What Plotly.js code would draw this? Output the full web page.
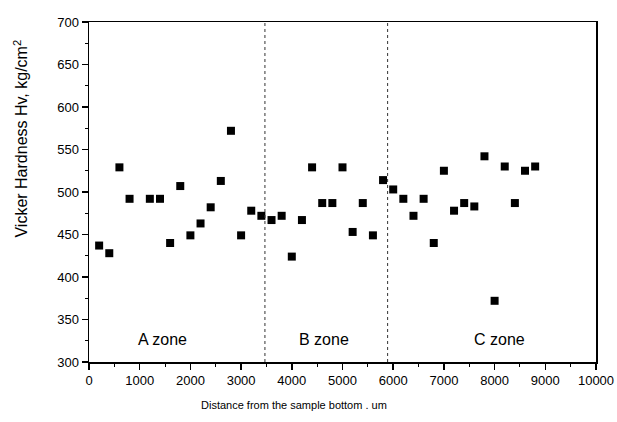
<!DOCTYPE html>
<html>
<head>
<meta charset="utf-8">
<script src="https://cdn.plot.ly/plotly-3.0.1.min.js"></script>
<style>html,body{margin:0;padding:0;background:#fff;}#chart{width:617px;height:422px;}</style>
</head>
<body>
<div id="chart"></div>
<script>
// Distance from the sample bottom (um)
const distance = [200, 400, 600, 800, 1200, 1400, 1600, 1800, 2000, 2200, 2400, 2600, 2800, 3000, 3200, 3400,
  3600, 3800, 4000, 4200, 4400, 4600, 4800, 5000, 5200, 5400, 5600, 5800,
  6000, 6200, 6400, 6600, 6800, 7000, 7200, 7400, 7600, 7800, 8000, 8200, 8400, 8600, 8800];
// Vicker hardness Hv (kg/cm2)
const hardness = [437, 428, 529, 492, 492, 492, 440, 507, 449, 463, 482, 513, 572, 449, 478, 472,
  467, 472, 424, 467, 529, 487, 487, 529, 453, 487, 449, 514,
  503, 492, 472, 492, 440, 525, 478, 487, 483, 542, 372, 530, 487, 525, 530];
const xTickVals = [0, 1000, 2000, 3000, 4000, 5000, 6000, 7000, 8000, 9000, 10000];
const xTickText = ["0", "1000", "2000", "3000", "4000", "5000", "6000", "7000", "8000", "9000", "10000"];
const yTickVals = [300, 350, 400, 450, 500, 550, 600, 650, 700];
const zoneBoundaries = [3470, 5890];
const zoneLabels = ["A zone", "B zone", "C zone"];
const zoneLabelX = [1450, 4630, 8100];
const zoneLabelY = 327;

const FONT = "Liberation Sans, Arial, sans-serif";

const trace = {
  x: distance, y: hardness, type: "scatter", mode: "markers",
  marker: {symbol: "square", size: 8, color: "#000"},
  hoverinfo: "x+y"
};

const shapes = zoneBoundaries.map(b => ({
  type: "line", xref: "x", yref: "y", x0: b, x1: b, y0: 300, y1: 700,
  line: {color: "#333", width: 1, dash: "dot"}
}));

const annotations = zoneLabels.map((t, i) => ({
  text: t, x: zoneLabelX[i], y: zoneLabelY, xref: "x", yref: "y",
  showarrow: false, font: {family: FONT, size: 16, color: "#000"}
}));
annotations.push({
  text: "Distance from the sample bottom . um", xref: "paper", yref: "paper",
  x: (294 - 89.3) / (596 - 89.3), y: -0.125, yanchor: "middle", xanchor: "center",
  showarrow: false, font: {family: FONT, size: 11, color: "#000"}
});
annotations.push({
  text: "Vicker Hardness Hv, kg/cm<sup>2</sup>", xref: "paper", yref: "paper",
  x: -0.135, y: (362 - 139) / 340, textangle: -90, xanchor: "center", yanchor: "middle",
  showarrow: false, font: {family: FONT, size: 16, color: "#000"}
});

const layout = {
  width: 617, height: 422,
  margin: {l: 89, r: 21, t: 22, b: 60},
  paper_bgcolor: "#fff", plot_bgcolor: "#fff",
  showlegend: false,
  font: {family: FONT, color: "#000"},
  xaxis: {
    range: [0, 10000], tickmode: "array", tickvals: xTickVals, ticktext: xTickText,
    ticks: "outside", ticklen: 6, tickwidth: 1.5, tickcolor: "#000",
    minor: {dtick: 500, tick0: 0, ticks: "outside", ticklen: 3, tickwidth: 1, tickcolor: "#000"},
    showline: true, linewidth: 1.5, linecolor: "#000", mirror: true,
    showgrid: false, zeroline: false,
    tickfont: {family: FONT, size: 13, color: "#000"}
  },
  yaxis: {
    range: [300, 700], tickmode: "array", tickvals: yTickVals,
    ticks: "outside", ticklen: 6, tickwidth: 1.5, tickcolor: "#000",
    minor: {dtick: 25, tick0: 300, ticks: "outside", ticklen: 3, tickwidth: 1, tickcolor: "#000"},
    showline: true, linewidth: 1.5, linecolor: "#000", mirror: true,
    showgrid: false, zeroline: false,
    tickfont: {family: FONT, size: 13, color: "#000"}
  },
  shapes: shapes,
  annotations: annotations
};

Plotly.newPlot("chart", [trace], layout, {displayModeBar: false, staticPlot: true});
</script>
</body>
</html>
